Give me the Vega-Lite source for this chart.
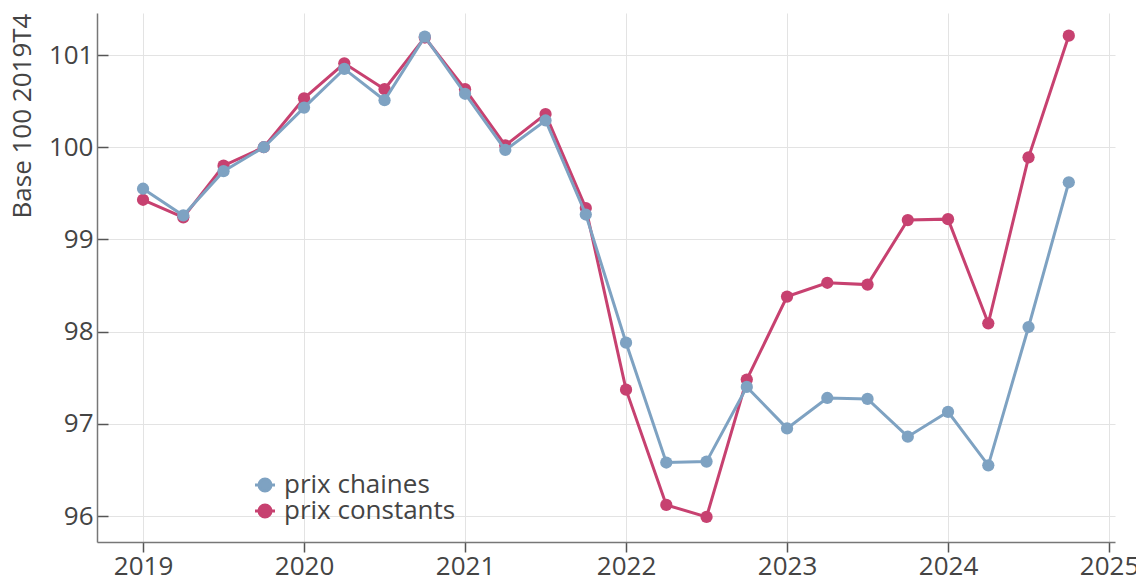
{
  "$schema": "https://vega.github.io/schema/vega-lite/v6.json",
  "width": 1018,
  "height": 529,
  "autosize": {"type": "none"},
  "padding": {"left": 97, "top": 13, "right": 21, "bottom": 37},
  "background": "white",
  "config": {
    "font": "Open Sans",
    "view": {"stroke": null},
    "axis": {
      "labelFont": "Open Sans",
      "titleFont": "Open Sans",
      "labelColor": "#444444",
      "titleColor": "#444444",
      "domainColor": "#777777",
      "tickColor": "#555555",
      "gridColor": "#e3e3e3",
      "gridWidth": 1,
      "domainWidth": 1.5,
      "tickWidth": 1.5,
      "titleFontWeight": "normal"
    },
    "legend": {
      "labelFont": "Open Sans",
      "labelColor": "#444444"
    }
  },
  "data": {
    "values": [
      {"t": 2019.00, "serie": "prix chaines", "v": 99.55},
      {"t": 2019.25, "serie": "prix chaines", "v": 99.26},
      {"t": 2019.50, "serie": "prix chaines", "v": 99.74},
      {"t": 2019.75, "serie": "prix chaines", "v": 100.0},
      {"t": 2020.00, "serie": "prix chaines", "v": 100.43},
      {"t": 2020.25, "serie": "prix chaines", "v": 100.85},
      {"t": 2020.50, "serie": "prix chaines", "v": 100.51},
      {"t": 2020.75, "serie": "prix chaines", "v": 101.2},
      {"t": 2021.00, "serie": "prix chaines", "v": 100.58},
      {"t": 2021.25, "serie": "prix chaines", "v": 99.97},
      {"t": 2021.50, "serie": "prix chaines", "v": 100.29},
      {"t": 2021.75, "serie": "prix chaines", "v": 99.27},
      {"t": 2022.00, "serie": "prix chaines", "v": 97.88},
      {"t": 2022.25, "serie": "prix chaines", "v": 96.58},
      {"t": 2022.50, "serie": "prix chaines", "v": 96.59},
      {"t": 2022.75, "serie": "prix chaines", "v": 97.40},
      {"t": 2023.00, "serie": "prix chaines", "v": 96.95},
      {"t": 2023.25, "serie": "prix chaines", "v": 97.28},
      {"t": 2023.50, "serie": "prix chaines", "v": 97.27},
      {"t": 2023.75, "serie": "prix chaines", "v": 96.86},
      {"t": 2024.00, "serie": "prix chaines", "v": 97.13},
      {"t": 2024.25, "serie": "prix chaines", "v": 96.55},
      {"t": 2024.50, "serie": "prix chaines", "v": 98.05},
      {"t": 2024.75, "serie": "prix chaines", "v": 99.62},
      {"t": 2019.00, "serie": "prix constants", "v": 99.43},
      {"t": 2019.25, "serie": "prix constants", "v": 99.24},
      {"t": 2019.50, "serie": "prix constants", "v": 99.80},
      {"t": 2019.75, "serie": "prix constants", "v": 100.0},
      {"t": 2020.00, "serie": "prix constants", "v": 100.53},
      {"t": 2020.25, "serie": "prix constants", "v": 100.91},
      {"t": 2020.50, "serie": "prix constants", "v": 100.63},
      {"t": 2020.75, "serie": "prix constants", "v": 101.19},
      {"t": 2021.00, "serie": "prix constants", "v": 100.63},
      {"t": 2021.25, "serie": "prix constants", "v": 100.02},
      {"t": 2021.50, "serie": "prix constants", "v": 100.36},
      {"t": 2021.75, "serie": "prix constants", "v": 99.34},
      {"t": 2022.00, "serie": "prix constants", "v": 97.37},
      {"t": 2022.25, "serie": "prix constants", "v": 96.12},
      {"t": 2022.50, "serie": "prix constants", "v": 95.99},
      {"t": 2022.75, "serie": "prix constants", "v": 97.48},
      {"t": 2023.00, "serie": "prix constants", "v": 98.38},
      {"t": 2023.25, "serie": "prix constants", "v": 98.53},
      {"t": 2023.50, "serie": "prix constants", "v": 98.51},
      {"t": 2023.75, "serie": "prix constants", "v": 99.21},
      {"t": 2024.00, "serie": "prix constants", "v": 99.22},
      {"t": 2024.25, "serie": "prix constants", "v": 98.09},
      {"t": 2024.50, "serie": "prix constants", "v": 99.89},
      {"t": 2024.75, "serie": "prix constants", "v": 101.21}
    ]
  },
  "encoding": {
    "x": {
      "field": "t",
      "type": "quantitative",
      "scale": {"domain": [2018.714, 2025.037], "nice": false, "zero": false},
      "axis": {
        "title": null,
        "values": [2019, 2020, 2021, 2022, 2023, 2024, 2025],
        "format": "d",
        "labelFontSize": 26,
        "tickSize": 10,
        "labelPadding": 1,
        "labelFlush": false,
        "labelOverlap": false
      }
    },
    "y": {
      "field": "v",
      "type": "quantitative",
      "scale": {"domain": [95.718, 101.456], "nice": false, "zero": false},
      "axis": {
        "title": "Base 100 2019T4",
        "titleFontSize": 26,
        "titlePadding": 13,
        "titleAnchor": "end",
        "values": [96, 97, 98, 99, 100, 101],
        "labelFontSize": 26,
        "tickSize": -11,
        "labelPadding": 15,
        "labelFlush": false,
        "labelOverlap": false
      }
    },
    "color": {
      "field": "serie",
      "type": "nominal",
      "scale": {"domain": ["prix chaines", "prix constants"], "range": ["#7ea2c2", "#c74170"]},
      "legend": {
        "title": null,
        "orient": "none",
        "legendX": 155,
        "legendY": 459,
        "labelFontSize": 26,
        "labelOffset": 6,
        "labelLimit": 400,
        "rowPadding": 0,
        "symbolType": "M-1,0L1,0M-0.6,0A0.6,0.6,0,1,1,0.6,0A0.6,0.6,0,1,1,-0.6,0Z",
        "symbolSize": 400,
        "symbolStrokeWidth": 3,
        "encode": {
          "symbols": {
            "update": {
              "fill": {"scale": "color", "field": "value"},
              "stroke": {"scale": "color", "field": "value"},
              "strokeWidth": {"value": 3},
              "opacity": {"value": 1}
            }
          }
        }
      }
    }
  },
  "layer": [
    {
      "transform": [{"filter": "datum.serie === 'prix constants'"}],
      "mark": {"type": "line", "strokeWidth": 3}
    },
    {
      "transform": [{"filter": "datum.serie === 'prix constants'"}],
      "mark": {"type": "point", "filled": true, "size": 150, "opacity": 1}
    },
    {
      "transform": [{"filter": "datum.serie === 'prix chaines'"}],
      "mark": {"type": "line", "strokeWidth": 3}
    },
    {
      "transform": [{"filter": "datum.serie === 'prix chaines'"}],
      "mark": {"type": "point", "filled": true, "size": 150, "opacity": 1}
    }
  ]
}
